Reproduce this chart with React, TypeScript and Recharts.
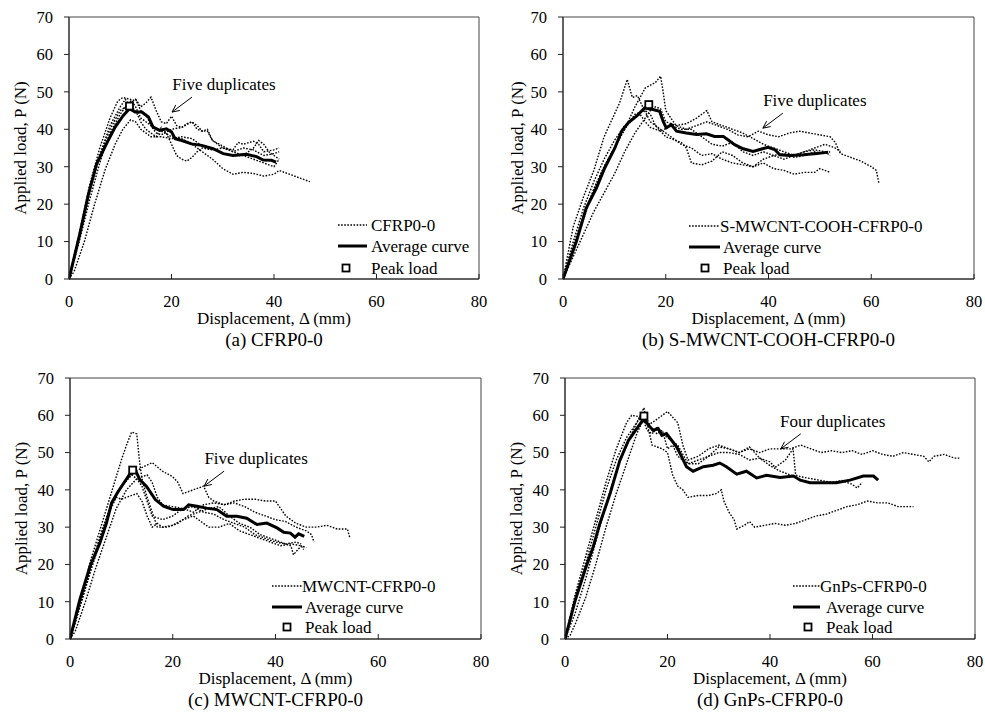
import React from 'react';
import { ComposedChart, Line, Scatter, XAxis, YAxis, ReferenceArea, ReferenceDot } from 'recharts';

// ---- data: [displacement (mm), load (N)] ----
const cfrpDup1 = [[0,0],[2,12],[4,25],[6,35],[8,43],[9.5,47.5],[10.5,48.5],[12,48],[13,46],[14,43],[16,41],[18,39.5],[20,38],[22,37.5],[24,36],[26,34],[28,32],[30,29.5],[32,28],[34,28.5],[36,28.2],[38,27.5],[40,28],[41,29],[42,28.5],[44,27.5],[46,26.5],[47,26]];
const cfrpDup2 = [[0,0],[2,10],[4,21],[6,31],[8,39],[10,44],[11,46],[12,47.5],[13,48],[14,46],[15,47],[16,48.6],[17,45],[18,42],[19,41.5],[20,43.5],[21,41],[22,40.5],[23,41.5],[24,42],[25,40],[26,39.5],[27,39.5],[28,37],[30,35],[32,34.5],[33,36.5],[34,36],[36,36.8],[37,36],[38,34],[40,34.5],[41,35]];
const cfrpDup3 = [[0,0],[2,11],[4,23],[6,33],[8,41],[10,46],[11,48],[12,46],[13,45],[14,42],[15,40],[16,39],[17,38],[18,40.5],[19,39],[20,36],[21,33],[22,32],[23,31.5],[24,32.5],[25,34],[26,35],[28,34.5],[30,35],[32,34],[34,35],[36,34.5],[38,33],[40,33.5],[41,34]];
const cfrpDup4 = [[0,0],[1,2],[3,10],[5,20],[7,29],[9,36],[10.5,40],[12,42.5],[13,42],[14,40],[16,38],[18,38],[20,37.5],[22,38],[24,37.5],[26,35.5],[28,35],[30,33.5],[32,33],[34,33],[36,32],[38,31],[40,30],[41,32]];
const cfrpDup5 = [[0,0],[2,12],[4,24],[6,33],[8,40],[10,45],[12,47],[13,48],[14,45],[15,44],[16,41],[17,39],[18,38.5],[20,40],[22,40.5],[24,42],[25,41],[26,39.5],[27,40],[28,37],[30,35.5],[32,34],[34,33],[36,35],[37,37],[38,36],[39,34],[40,33],[41,32]];
const cfrpAvg = [[0,0],[2.1,12],[3.8,22.7],[5.4,30.8],[7.3,36.1],[9,40.6],[10.6,43.7],[11.8,45.5],[12.9,44.6],[14.2,44.6],[15.5,43.3],[16.4,40.6],[17.7,39.7],[19,40.1],[20,39.3],[20.7,37.5],[22,37],[23.9,36.1],[25.9,35.7],[28.1,34.8],[30.1,33.5],[32,33],[34.6,33.3],[36.6,32.7],[37.9,31.8],[39.5,31.7],[40.4,31.2]];
const cfrpPeak = [[11.8,46.2]];

const smwDup1 = [[0,0],[2,14],[4,22],[6,29],[8,38],[10,44],[11,47],[12.5,53.3],[13.5,48.5],[14.5,49],[15.5,46],[17,42],[19,40],[21,38],[23,36],[25,35],[27,33],[29,33.5],[31,32],[33,31],[35,30.5],[37,30],[39,31],[41,29.5],[43,29],[45,28],[47,28.5],[49,28.5],[50,29.5],[52,28.5]];
const smwDup2 = [[0,0],[2,8],[4,16],[6,24],[8,30],[10,35],[12,40],[14,46],[16,51],[18,52.5],[19,54.2],[19.5,50],[20,45],[22,41],[24,40],[26,41],[28,42],[30,41],[32,40],[34,38.5],[36,38],[38,39.5],[40,38.5],[42,38],[44,39],[46,39.5],[48,39],[50,38.5],[52,38],[53,36.5],[54,33.5],[56,32.5],[58,31.5],[60,30],[61,29],[61.5,25.5]];
const smwDup3 = [[0,0],[2,9],[4,17],[6,24],[8,30],[10,35],[12,40],[14,44],[16,45],[17,44],[18,41],[20,38],[22,37],[23,36.5],[24,35],[25,31],[27,30.5],[29,31.5],[31,34],[33,33],[35,31],[37,30],[39,32],[41,33],[43,32],[45,33],[47,34],[49,34.5],[51,34],[52,33]];
const smwDup4 = [[0,0],[2,6],[4,12],[6,18],[8,23],[10,28],[12,34],[14,39],[16,43],[17,45],[18,46],[19,45.5],[20,42],[22,41],[24,41.5],[26,43],[28,45],[29,42],[31,41],[33,40],[35,39],[37,37.5],[39,36],[41,35],[43,34],[45,33],[47,34],[49,35],[51,36],[53,35],[54,34]];
const smwDup5 = [[0,0],[2,10],[4,19],[6,26],[8,32],[10,37],[12,41],[14,43],[15,44],[16,42],[17,40.5],[19,39.5],[21,41],[23,40],[25,40],[27,38],[29,36],[31,35.5],[33,36.5],[35,34],[37,33],[39,34],[41,33],[43,33.5],[45,32.5],[47,33],[49,34],[51,33.5],[52,34]];
const smwAvg = [[0,0],[2.6,10],[4.5,18.9],[6.5,24.3],[8.1,29.6],[10.1,35],[11.4,39.5],[12.7,41.7],[14.3,43.5],[15.9,45.7],[17.5,45.3],[18.8,44.8],[19.5,42.1],[20.1,40.4],[21.1,41.2],[22.1,39.5],[24,39],[26,38.6],[27.9,38.8],[29.5,38.1],[31.2,38.1],[32.1,37.2],[33.4,35.9],[35.1,34.8],[37,34.1],[38.3,34.6],[39.9,35.2],[41.2,34.6],[42.2,33.2],[44.2,33],[46.8,33.2],[49.4,33.5],[51.6,33.9]];
const smwPeak = [[16.7,46.6]];

const mwDup1 = [[0,0],[2,10],[4,21],[6,30],[8,39],[10,48],[11,52],[12,55.5],[13,55],[13.5,48],[14,43],[15,38],[16,34],[17,30],[19,30],[21,31],[23,33],[25,34],[27,35],[29,35.5],[31,33],[33,31],[35,30],[37,28],[39,27],[41,26],[43,25],[43.5,22.6],[45,25],[46,24.5]];
const mwDup2 = [[0,0],[2,9],[4,19],[6,28],[8,36],[10,41],[12,44],[14,46],[16,47.3],[18,45],[20,43.5],[21,42],[22,39],[24,40],[26,41],[27,38],[28,37],[30,36],[32,37],[34,37.5],[36,37.5],[38,37],[40,37],[41,35],[42,33],[44,31],[46,30],[48,30],[50,30.5],[52,29.5],[54,29.5],[54.5,27]];
const mwDup3 = [[0,0],[2,9],[4,18],[6,27],[8,35],[9,38],[10,37.5],[11,38],[12,38.5],[13,39],[14,37],[15,33],[16,30],[17,31],[18,30],[20,30.5],[22,32],[24,33],[26,31],[27,30],[29,30],[31,31],[33,29],[35,28],[37,27],[39,26],[41,25],[43,25.5],[45,25],[45.5,24]];
const mwDup4 = [[0,0],[1,2],[3,10],[5,19],[7,27],[9,35],[11,40],[13,43],[15,44],[16,42],[17,38],[18,36],[20,35.5],[22,35],[24,34],[26,36],[28,36.5],[30,36],[32,36.5],[34,35.5],[36,34],[38,33],[40,32],[42,31.5],[44,30],[46,29],[47,28],[47.5,26]];
const mwDup5 = [[0,0],[2,9],[4,19],[6,28],[8,36],[10,41],[12,44],[13,43],[14,41],[15,37],[16,33],[18,32],[20,33],[22,35],[24,35.5],[26,34],[28,33.5],[30,32],[32,31],[34,30],[36,28],[38,27],[40,26],[42,25.5],[44,26],[45,25.5]];
const mwAvg = [[0,0],[1.9,10.5],[3.9,19.5],[5.8,25.7],[7.1,31.1],[8.1,36.5],[9.4,39.6],[10.7,42.3],[12.2,45.4],[13,44.5],[13.6,42.7],[14.9,40.9],[16.6,37.4],[18.2,35.6],[20.1,34.7],[22.1,34.7],[23.1,36],[24.7,35.6],[26.6,35.1],[28.6,34.7],[30.5,32.9],[32.5,32.9],[34.4,32.4],[36.4,30.7],[38.3,31.1],[40.3,29.8],[41.6,28.6],[42.9,28.4],[43.8,27.3],[44.5,28.2],[45.6,27.5]];
const mwPeak = [[12.2,45.3]];

const gnpDup1 = [[0,0],[2,12],[4,22],[6,32],[8,42],[10,51],[12,58],[13,60],[15,59.5],[16,57.5],[17,58],[18,59],[20,61],[22,58],[23,52],[24,48],[26,49],[28,51],[30,52],[32,51],[34,50],[36,51],[38,50],[40,51],[42,51],[44,51],[46,52],[48,51],[50,50],[52,50.5],[54,50],[56,50.5],[58,49.5],[60,50.5],[62,49.5],[64,49],[66,50],[68,49.5],[70,49],[71,47.5],[72,49],[74,49.5],[76,48.5],[77,48.5]];
const gnpDup2 = [[0,0],[2,7],[4,16],[6,26],[8,36],[10,45],[12,52],[14,58],[15.4,62],[16,58],[17,52],[18,51.5],[19,51],[20,50],[21,44],[22,41],[23,40],[24,38],[26,38.5],[28,38.5],[29.5,39],[30.5,40],[31,37],[32,34],[33,32],[33.5,29.5],[35,30.5],[36,31.5],[37,30],[39,30.5],[41,31],[43,30.5],[45,31],[47,32],[49,33],[51,33.5],[53,34.5],[55,35.5],[57,36],[59,37],[61,36.5],[63,36.5],[65,35.5],[67,35.5],[68,35.5]];
const gnpDup3 = [[0,0],[1,1],[2,4],[4,11],[6,20],[8,30],[10,39],[12,47],[14,55],[15,58],[16,59],[17,56],[18,55],[19,56],[20,51],[21,52],[22,49],[24,47],[26,48],[28,49],[30,51.5],[32,51],[34,50],[36,51.5],[37,50],[38,48.5],[40,47.5],[41,46],[42,47],[43,48],[44,50],[44.5,51],[45,44],[46,43.5],[48,43],[50,42.5],[52,42],[54,42.5],[56,41.5],[57,40.5],[58,42]];
const gnpDup4 = [[0,0],[2,11],[4,20],[6,30],[8,40],[10,48],[12,54],[14,58],[15,60],[16,56],[17,55],[18,57],[19,55],[20,54],[22,52],[24,47],[26,47],[28,49],[30,50],[32,50],[34,49.5],[36,48],[38,48.5],[40,46.5],[42,45],[44,44],[45,43.5]];
const gnpAvg = [[0,0],[2,10.4],[3.9,18.5],[5.5,24.7],[6.8,31],[8.8,39],[10.7,47.9],[12.4,53.3],[14,56.4],[15.4,59.1],[16.3,57.3],[17.2,56],[18.2,56.4],[18.9,54.6],[19.8,55.1],[20.8,53.3],[21.8,51.5],[22.8,48.8],[23.7,46.2],[25,45],[27,46.2],[28.9,46.6],[30.2,47.2],[31.5,46.2],[33.5,44.2],[35.4,45],[37.4,43.2],[39.3,43.9],[42,43.3],[44.6,43.7],[45.9,42.6],[47.8,41.9],[50.4,41.9],[53,41.9],[55.6,42.6],[58.2,43.7],[60.2,43.7],[61.1,42.6]];
const gnpPeak = [[15.4,59.8]];

const xTicks = [0, 20, 40, 60, 80];
const yTicks = [0, 10, 20, 30, 40, 50, 60, 70];
const xTitle = 'Displacement, Δ (mm)';
const yTitle = 'Applied load, P (N)';
const avgLabel = 'Average curve';
const peakLabel = 'Peak load';

const pts = (a: number[][]) => a.map(([x, y]) => ({ x, y }));

const FONT = "'Liberation Serif', 'DejaVu Serif', serif";

type Box = { left: number; top: number; w: number; h: number };
type Plot = { l: number; t: number; r: number; b: number };
type Leg = { x0: number; x1: number; sq: number; tx1: number; tx2: number; rows: number[] };

const Square = (p: any) => (
  <rect x={p.cx - 3.5} y={p.cy - 3.5} width={7} height={7} fill="#fff" stroke="#000" strokeWidth={1.8} />
);

const noteShape = (text: string) => (p: any) => {
  const { cx, cy } = p;
  return (
    <g>
      <line x1={cx + 20} y1={cy - 15} x2={cx} y2={cy} stroke="#000" strokeWidth={1} />
      <polyline points={`${cx + 7.8},${cy - 1.6} ${cx},${cy} ${cx + 3.8},${cy - 7.1}`} fill="none" stroke="#000" strokeWidth={1} />
      <text x={cx + 52} y={cy - 22} textAnchor="middle" style={{ fontFamily: FONT, fontSize: 17 }} fill="#000">{text}</text>
    </g>
  );
};

const Panel = ({ box, plot, dups, avg, peak, name, leg, note, caption, yTitleX }: {
  box: Box; plot: Plot; dups: number[][][]; avg: number[][]; peak: number[][]; name: string;
  leg: Leg; note: { x: number; y: number; text: string }; caption: string; yTitleX: number;
}) => {
  const margin = { top: plot.t - box.top, right: box.left + box.w - plot.r, left: 0, bottom: box.top + box.h - plot.b - 50 };
  const yw = plot.l - box.left;
  const tickStyle = { fill: '#000', fontSize: 16.5, style: { fontFamily: FONT } };
  const cx = (plot.l + plot.r) / 2 - box.left;
  const rows = leg.rows.map((r) => r - box.top);
  const txt = { fontFamily: FONT, fontSize: 17 };
  return (
    <div style={{ position: 'absolute', left: box.left, top: box.top, width: box.w, height: box.h, fontFamily: FONT }}>
      <ComposedChart width={box.w} height={box.h} margin={margin} style={{ fontFamily: FONT }}>
        <XAxis type="number" dataKey="x" domain={[0, 80]} ticks={xTicks} allowDataOverflow height={50}
          tickSize={-5} tickMargin={21} stroke="#222" tick={tickStyle}
          label={{ value: xTitle, position: 'insideBottom', offset: 5, style: { fill: '#000', ...txt } }} />
        <YAxis type="number" domain={[0, 70]} ticks={yTicks} width={yw} tickSize={5} tickMargin={11}
          stroke="#222" tick={tickStyle}
          label={{ value: yTitle, angle: -90, position: 'insideLeft', offset: yTitleX, style: { fill: '#000', ...txt, textAnchor: 'middle' } }} />
        <ReferenceArea x1={0} x2={80} y1={0} y2={70} fill="none" stroke="#444" strokeWidth={1} />
        {dups.map((d, i) => (
          <Line key={i} data={pts(d)} dataKey="y" type="linear" stroke="#000" strokeWidth={1.4}
            strokeDasharray="1.6 1.5" dot={false} activeDot={false} isAnimationActive={false} />
        ))}
        <Line data={pts(avg)} dataKey="y" type="linear" stroke="#000" strokeWidth={3}
          dot={false} activeDot={false} isAnimationActive={false} />
        <Scatter data={pts(peak)} dataKey="y" shape={Square} isAnimationActive={false} />
        <ReferenceDot x={note.x} y={note.y} shape={noteShape(note.text)} />
      </ComposedChart>
      <svg width={box.w} height={box.h} style={{ position: 'absolute', left: 0, top: 0, pointerEvents: 'none' }}>
        <line x1={leg.x0 - box.left} x2={leg.x1 - box.left} y1={rows[0]} y2={rows[0]} stroke="#000" strokeWidth={1.4} strokeDasharray="1.6 1.5" />
        <text x={leg.tx1 - box.left} y={rows[0] + 6} style={txt} fill="#000">{name}</text>
        <line x1={leg.x0 - box.left} x2={leg.x1 - box.left} y1={rows[1]} y2={rows[1]} stroke="#000" strokeWidth={3} />
        <text x={leg.tx2 - box.left} y={rows[1] + 6} style={txt} fill="#000">{avgLabel}</text>
        <rect x={leg.sq - box.left - 3.5} y={rows[2] - 3.5} width={7} height={7} fill="#fff" stroke="#000" strokeWidth={1.8} />
        <text x={leg.tx2 - box.left} y={rows[2] + 6} style={txt} fill="#000">{peakLabel}</text>
      </svg>
      <div style={{ position: 'absolute', left: cx - 200, width: 400, top: plot.b - box.top + 61 - 12, height: 24, lineHeight: '24px', textAlign: 'center', fontFamily: FONT, fontSize: 19, color: '#000' }}>
        {caption}
      </div>
    </div>
  );
};

export default function App() {
  return (
    <div style={{ position: 'absolute', left: 0, top: 0, width: 985, height: 713, background: '#fff' }}>
      <Panel box={{ left: 0, top: 0, w: 490, h: 350 }} plot={{ l: 69, t: 17, r: 479, b: 279 }}
        dups={[cfrpDup1, cfrpDup2, cfrpDup3, cfrpDup4, cfrpDup5]} avg={cfrpAvg} peak={cfrpPeak} name="CFRP0-0"
        leg={{ x0: 338, x1: 367, sq: 346, tx1: 371, tx2: 371, rows: [225, 246, 268] }}
        note={{ x: 20.1, y: 44.6, text: 'Five duplicates' }} caption="(a) CFRP0-0" yTitleX={20} />
      <Panel box={{ left: 490, top: 0, w: 495, h: 350 }} plot={{ l: 563, t: 17, r: 974, b: 279 }}
        dups={[smwDup1, smwDup2, smwDup3, smwDup4, smwDup5]} avg={smwAvg} peak={smwPeak} name="S-MWCNT-COOH-CFRP0-0"
        leg={{ x0: 689, x1: 720, sq: 705, tx1: 720, tx2: 723, rows: [226, 247, 268] }}
        note={{ x: 38.9, y: 40.3, text: 'Five duplicates' }} caption="(b) S-MWCNT-COOH-CFRP0-0" yTitleX={27} />
      <Panel box={{ left: 0, top: 355, w: 490, h: 358 }} plot={{ l: 70, t: 378, r: 481, b: 639 }}
        dups={[mwDup1, mwDup2, mwDup3, mwDup4, mwDup5]} avg={mwAvg} peak={mwPeak} name="MWCNT-CFRP0-0"
        leg={{ x0: 272, x1: 302, sq: 287, tx1: 302, tx2: 305, rows: [586, 607, 627] }}
        note={{ x: 26.1, y: 41, text: 'Five duplicates' }} caption="(c) MWCNT-CFRP0-0" yTitleX={21} />
      <Panel box={{ left: 490, top: 355, w: 495, h: 358 }} plot={{ l: 565, t: 378, r: 975, b: 639 }}
        dups={[gnpDup1, gnpDup2, gnpDup3, gnpDup4]} avg={gnpAvg} peak={gnpPeak} name="GnPs-CFRP0-0"
        leg={{ x0: 793, x1: 820, sq: 808, tx1: 820, tx2: 826, rows: [586, 607, 627] }}
        note={{ x: 42.1, y: 51, text: 'Four duplicates' }} caption="(d) GnPs-CFRP0-0" yTitleX={26} />
    </div>
  );
}
